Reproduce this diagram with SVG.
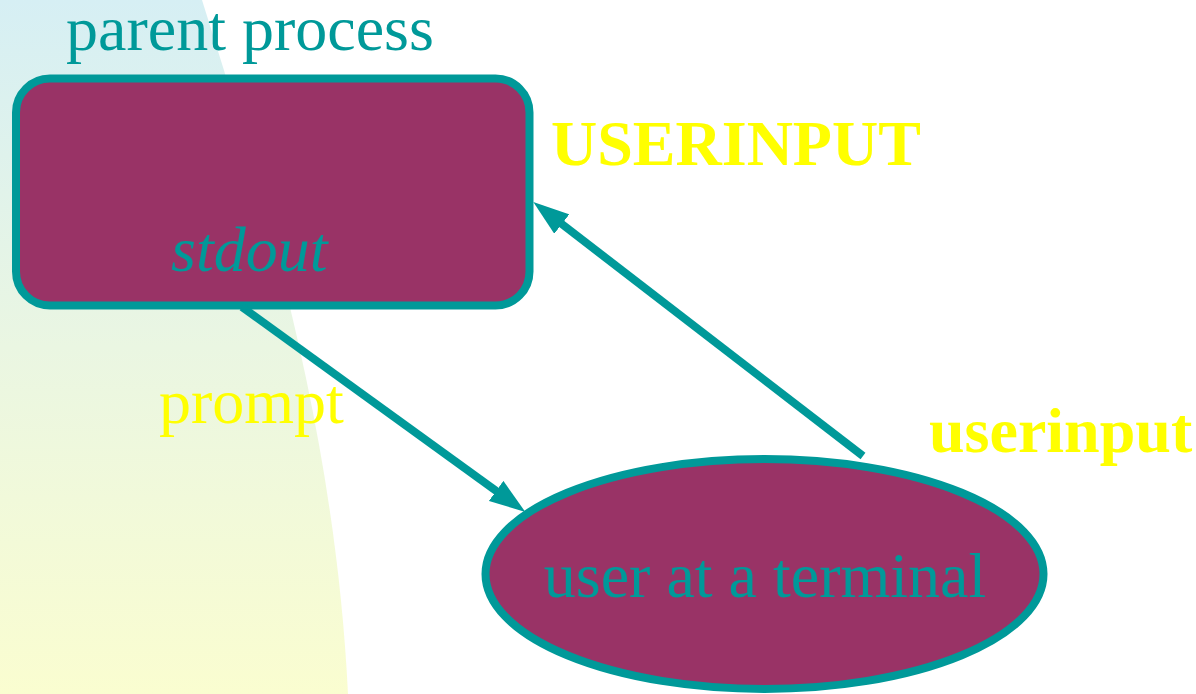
<svg xmlns="http://www.w3.org/2000/svg" width="1196" height="694" viewBox="0 0 1196 694">
  <defs>
    <linearGradient id="bgFade" x1="0" y1="0" x2="0" y2="1">
      <stop offset="0" stop-color="#d6eff4"/>
      <stop offset="0.5" stop-color="#eaf6e2"/>
      <stop offset="1" stop-color="#fafdd0"/>
    </linearGradient>
    <marker id="arrowHead" markerUnits="userSpaceOnUse" markerWidth="36" markerHeight="26" viewBox="0 0 35 24" refX="1" refY="12" orient="auto">
      <path d="M0,0 L35,12 L0,24 z" fill="#009999"/>
    </marker>
    <style>
      .shape { fill: #993366; stroke: #009999; stroke-width: 8; }
      .label { font-family: "Liberation Serif", "Times New Roman", serif; font-size: 64px; }
      .teal { fill: #009999; }
      .yellow { fill: #ffff00; }
      .bold { font-weight: bold; }
      .edge { stroke: #009999; stroke-width: 8; fill: none; marker-end: url(#arrowHead); }
    </style>
  </defs>

  <!-- soft backdrop on the left -->
  <rect width="1196" height="694" fill="#ffffff"/>
  <path d="M0,0 L202,0 C265,200 335,430 348,694 L0,694 z" fill="url(#bgFade)"/>

  <g id="parent-process">
    <rect class="shape" x="16" y="78.5" width="513.5" height="227" rx="34" ry="34"/>
    <text class="label teal" x="66" y="50">parent process</text>
    <text class="label teal" x="171" y="271" font-style="italic">stdout</text>
  </g>

  <g id="terminal-user">
    <ellipse class="shape" cx="764.5" cy="574" rx="279" ry="115"/>
    <text class="label teal" x="765" y="597" text-anchor="middle">user at a terminal</text>
  </g>

  <g id="connectors">
    <line class="edge" x1="242" y1="307" x2="497" y2="491.5"/>
    <line class="edge" x1="863" y1="456" x2="561" y2="223.4"/>
  </g>

  <g id="edge-labels">
    <text class="label yellow" x="159" y="423">prompt</text>
    <text class="label yellow bold" x="551" y="165">USERINPUT</text>
    <text class="label yellow bold" x="929" y="452">userinput</text>
  </g>
</svg>
